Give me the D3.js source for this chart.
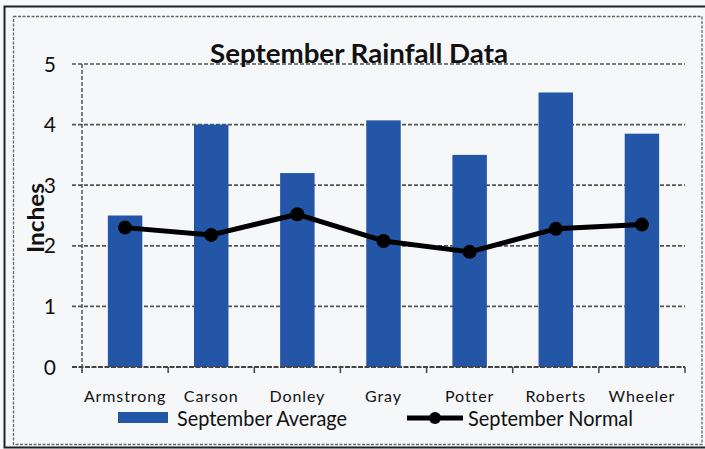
<!DOCTYPE html>
<html>
<head>
<meta charset="utf-8">
<script src="https://cdn.jsdelivr.net/npm/d3@7"></script>
<style>
  html, body { margin: 0; padding: 0; background: #ffffff; }
  svg { display: block; }
  text { font-family: Lato, "Open Sans", sans-serif; fill: #111; }
</style>
</head>
<body>
<svg id="chart" width="705" height="449"></svg>
<script>
const categories = ["Armstrong", "Carson", "Donley", "Gray", "Potter", "Roberts", "Wheeler"];
const septemberAverage = [2.5, 4.0, 3.2, 4.07, 3.5, 4.53, 3.85];
const septemberNormal = [2.3, 2.18, 2.52, 2.08, 1.9, 2.28, 2.35];
const yTicks = [0, 1, 2, 3, 4, 5];
const titleText = "September Rainfall Data";
const yLabel = "Inches";
const seriesNames = ["September Average", "September Normal"];

const svg = d3.select("#chart");
const W = 705, H = 449;
const barColor = "#2356a6";
const gridColor = "#555";

svg.append("rect").attr("x", 0).attr("y", 0).attr("width", W).attr("height", H).attr("fill", "#f7f8fa");
// outer solid frame
svg.append("rect").attr("x", 4.5).attr("y", 6.5).attr("width", 710).attr("height", 441)
  .attr("fill", "none").attr("stroke", "#222").attr("stroke-width", 2);
// inner dashed frame
svg.append("rect").attr("x", 13.5).attr("y", 16.5).attr("width", 688.5).attr("height", 428)
  .attr("fill", "#f5f7f9").attr("stroke", "#666").attr("stroke-width", 1.3).attr("stroke-dasharray", "3,1.5");

const m = { left: 82, right: 685, top: 64, bottom: 367 };
const x = d3.scaleBand().domain(categories).range([m.left, m.right]).paddingInner(0.6).paddingOuter(0.3);
const xc = d3.scaleBand().domain(categories).range([m.left, m.right]);
const y = d3.scaleLinear().domain([0, 5]).range([m.bottom, m.top]);

// gridlines
const grid = svg.append("g");
grid.selectAll("line").data(yTicks.filter(d => d > 0)).join("line")
  .attr("x1", m.left - 10).attr("x2", m.right)
  .attr("y1", d => y(d)).attr("y2", d => y(d))
  .attr("stroke", gridColor).attr("stroke-width", 1.7).attr("stroke-dasharray", "4,2");

// y-axis line (dashed)
svg.append("line").attr("x1", m.left).attr("x2", m.left).attr("y1", m.top).attr("y2", m.bottom + 4)
  .attr("stroke", gridColor).attr("stroke-width", 1.5).attr("stroke-dasharray", "4,2");

// y tick labels
svg.append("g").selectAll("text").data(yTicks).join("text")
  .attr("x", 56).attr("y", d => y(d)).attr("dy", "0.36em")
  .attr("text-anchor", "end").attr("font-size", 21).text(d => d);

// bars
svg.append("g").selectAll("rect").data(categories).join("rect")
  .attr("x", d => x(d)).attr("width", x.bandwidth())
  .attr("y", (d, i) => y(septemberAverage[i]))
  .attr("height", (d, i) => y(0) - y(septemberAverage[i]))
  .attr("fill", barColor);

// x axis
svg.append("line").attr("x1", m.left - 10).attr("x2", m.right).attr("y1", m.bottom).attr("y2", m.bottom)
  .attr("stroke", "#444").attr("stroke-width", 1.8).attr("stroke-dasharray", "5,1.5");
const bounds = categories.map(c => xc(c)).concat([m.right]);
svg.append("g").selectAll("line").data(bounds).join("line")
  .attr("x1", d => d).attr("x2", d => d).attr("y1", m.bottom).attr("y2", m.bottom + 6)
  .attr("stroke", "#444").attr("stroke-width", 1.5);

svg.append("g").selectAll("text").data(categories).join("text")
  .attr("x", d => xc(d) + xc.bandwidth() / 2).attr("y", 402)
  .attr("text-anchor", "middle").attr("font-size", 16).attr("letter-spacing", 0.9)
  .text(d => d);

// line series
const line = d3.line().x((d, i) => xc(categories[i]) + xc.bandwidth() / 2).y(d => y(d));
svg.append("path").datum(septemberNormal).attr("d", line)
  .attr("fill", "none").attr("stroke", "#000").attr("stroke-width", 5).attr("stroke-linejoin", "round");
svg.append("g").selectAll("circle").data(septemberNormal).join("circle")
  .attr("cx", (d, i) => xc(categories[i]) + xc.bandwidth() / 2).attr("cy", d => y(d))
  .attr("r", 7).attr("fill", "#000");

// title
svg.append("text").attr("x", 359).attr("y", 63).attr("text-anchor", "middle")
  .attr("font-size", 27).attr("font-weight", "bold")
  .attr("textLength", 298).attr("lengthAdjust", "spacingAndGlyphs").text(titleText);

// y label
svg.append("text").attr("transform", "translate(44,218) rotate(-90)")
  .attr("text-anchor", "middle").attr("font-size", 23).attr("font-weight", "bold")
  .attr("textLength", 70).attr("lengthAdjust", "spacingAndGlyphs").text(yLabel);

// legend
const lg = svg.append("g");
lg.append("rect").attr("x", 118).attr("y", 412).attr("width", 50).attr("height", 11).attr("fill", barColor);
lg.append("text").attr("x", 177).attr("y", 426).attr("font-size", 21)
  .attr("textLength", 170).attr("lengthAdjust", "spacingAndGlyphs").text(seriesNames[0]);
lg.append("line").attr("x1", 407).attr("x2", 463).attr("y1", 418).attr("y2", 418)
  .attr("stroke", "#000").attr("stroke-width", 5);
lg.append("circle").attr("cx", 435).attr("cy", 418).attr("r", 6).attr("fill", "#000");
lg.append("text").attr("x", 468).attr("y", 426).attr("font-size", 21)
  .attr("textLength", 165).attr("lengthAdjust", "spacingAndGlyphs").text(seriesNames[1]);
</script>
</body>
</html>
